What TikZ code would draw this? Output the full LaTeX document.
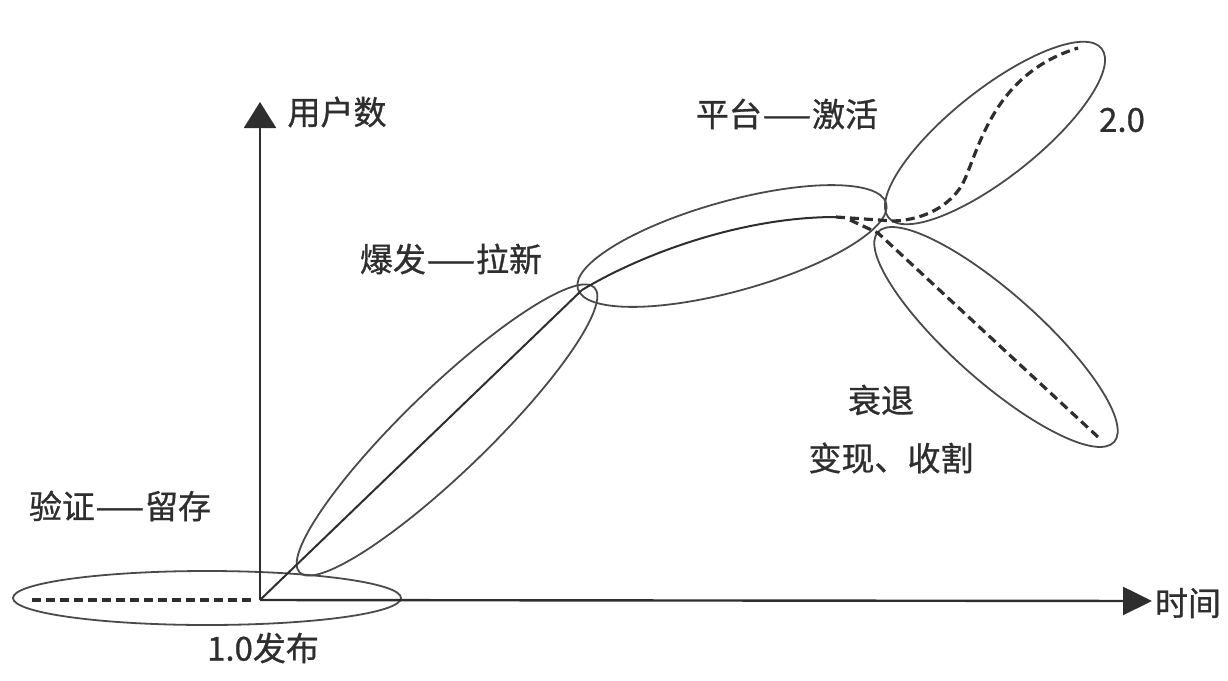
\documentclass[tikz,border=0pt]{standalone}
\usepackage{fontspec}
\setmainfont{Noto Sans CJK SC}
\newfontfamily\lblfont{Noto Sans CJK SC}[FakeBold=0.9]
\usetikzlibrary{arrows.meta}
\definecolor{ink}{HTML}{2E2E2E}
\definecolor{rim}{HTML}{4A4A4A}
\newcommand{\lngdash}{\scalebox{1.7}[1]{—}}
\tikzset{
  axisline/.style={draw=ink, line width=2.4pt},
  rimline/.style={draw=rim, line width=1.8pt},
  solidcurve/.style={draw=ink, line width=2pt},
  dashcurve/.style={draw=ink, line width=3.2pt, dash pattern=on 9pt off 5pt},
  lbl/.style={text=ink, font=\lblfont\fontsize{33}{36}\selectfont, inner sep=0pt}
}
\begin{document}
\begin{tikzpicture}[x=1pt,y=-1pt]
\useasboundingbox (0,0) rectangle (1228,680);
% key points
\coordinate (O) at (260,600);
\coordinate (ytip) at (260,102);
\coordinate (xtip) at (1152,601);
\coordinate (dstart) at (32,600);
\coordinate (dend) at (254,600);
\coordinate (J1) at (582,290);
\coordinate (P1) at (836,217);
\coordinate (J2) at (893,221);
\coordinate (T2) at (1078,48);
\coordinate (D0) at (850,220);
\coordinate (D1) at (878,233);
\coordinate (D2) at (1098,437);
% ellipses
\draw[rimline] (207,598) ellipse [x radius=194, y radius=27];
\draw[rimline, rotate around={44:(447,430)}] (447,430) ellipse [x radius=205, y radius=42];
\draw[rimline, rotate around={15.5:(732,246)}] (732,246) ellipse [x radius=160, y radius=45];
\draw[rimline, rotate around={38.4:(995,133)}] (995,133) ellipse [x radius=136, y radius=44];
\draw[rimline, rotate around={-41.6:(996,337)}] (996,337) ellipse [x radius=158, y radius=44];
% axes
\draw[axisline, -{Triangle[length=26pt,width=32pt]}] (O) -- (ytip);
\draw[axisline, -{Triangle[length=29pt,width=28pt]}] (O) -- (xtip);
% curves
\draw[dashcurve] (dstart) -- (dend);
\draw[solidcurve] (O) -- (J1);
\draw[solidcurve] (J1) .. controls (640,255) and (740,217) .. (P1);
\draw[dashcurve] (P1) -- (J2) .. controls (925,220) and (950,205) .. (962,185) .. controls (978,155) and (990,75) .. (T2);
\draw[dashcurve] (D0) -- (D1) -- (D2);
% labels
\node[lbl] (ly) at (337,112) {用户数};
\node[lbl] (lx) at (1188,603) {时间};
\node[lbl] (l1) at (120,506) {验证\lngdash 留存};
\node[lbl] (l10) at (263,648) {1.0发布};
\node[lbl] (l2) at (451,259) {爆发\lngdash 拉新};
\node[lbl] (l3) at (787,114) {平台\lngdash 激活};
\node[lbl] (l20) at (1122,120) {2.0};
\node[lbl] (l4) at (881,400) {衰退};
\node[lbl] (l5) at (891,458) {变现、收割};
\end{tikzpicture}
\end{document}
